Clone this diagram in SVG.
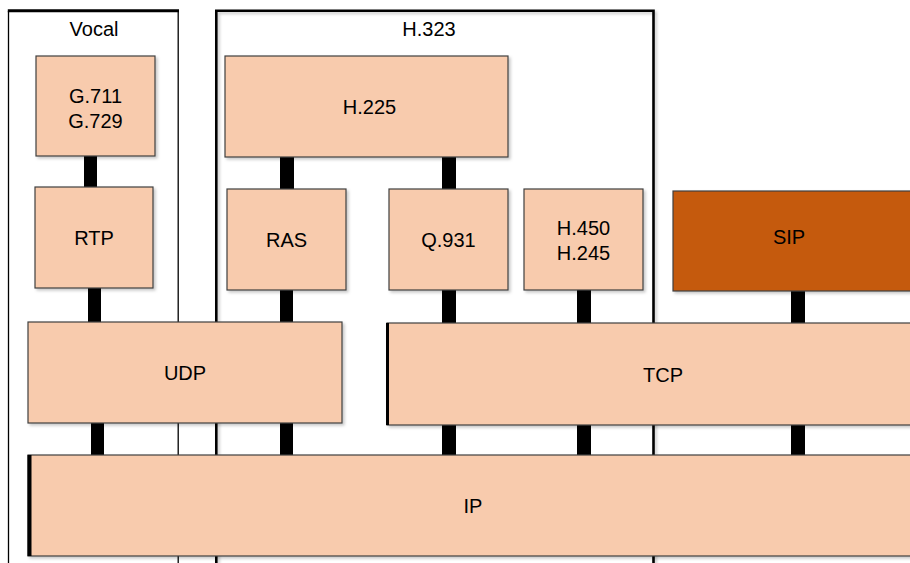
<svg xmlns="http://www.w3.org/2000/svg" width="910" height="563" viewBox="0 0 910 563">
  <defs>
    <filter id="sh" x="-5%" y="-5%" width="115%" height="115%">
      <feDropShadow dx="2" dy="2" stdDeviation="1.5" flood-color="#000" flood-opacity="0.22"/>
    </filter>
    <style>
      .box { fill: #F8CBAD; stroke: #404040; stroke-width: 1.2; filter: url(#sh); }
      .sip { fill: #C55A11; stroke: #404040; stroke-width: 1.2; filter: url(#sh); }
      .lbl { font-family: "Liberation Sans", Arial, sans-serif; font-size: 20px; fill: #000; text-anchor: middle; }
      .con { fill: #000; }
      .frame { fill: none; stroke: #000; }
    </style>
  </defs>
  <rect x="0" y="0" width="910" height="563" fill="#fff"/>

  <g id="vocal">
    <path class="frame" d="M8.5,563 V11 M178.2,563 V11" stroke-width="1.3"/>
    <path class="frame" d="M7.8,10.8 H179" stroke-width="3"/>
    <text class="lbl" x="94" y="35.5">Vocal</text>
  </g>
  <g id="h323">
    <path class="frame" d="M216.3,563 V10.8 H653.5 V563" stroke-width="2.6" filter="url(#sh)"/>
    <text class="lbl" x="429" y="35.5">H.323</text>
  </g>

  <g id="connectors">
    <rect class="con" x="84" y="156" width="13" height="32"/>
    <rect class="con" x="280" y="157" width="14" height="32"/>
    <rect class="con" x="442" y="157" width="14" height="32"/>
    <rect class="con" x="88" y="288" width="13" height="34"/>
    <rect class="con" x="280" y="290" width="13" height="33"/>
    <rect class="con" x="442" y="290" width="14" height="33"/>
    <rect class="con" x="577" y="290" width="14" height="33"/>
    <rect class="con" x="791" y="291" width="14" height="32"/>
    <rect class="con" x="91" y="423" width="13" height="32"/>
    <rect class="con" x="280" y="423" width="13" height="32"/>
    <rect class="con" x="442" y="425" width="14" height="30"/>
    <rect class="con" x="577" y="425" width="14" height="30"/>
    <rect class="con" x="791" y="425" width="14" height="30"/>
  </g>

  <g id="g711">
    <rect class="box" x="36" y="56" width="119" height="100"/>
    <text class="lbl" x="95.5" y="102.5">G.711</text>
    <text class="lbl" x="95.5" y="127.5">G.729</text>
  </g>
  <g id="rtp">
    <rect class="box" x="35" y="187" width="118" height="101"/>
    <text class="lbl" x="94" y="245">RTP</text>
  </g>
  <g id="h225">
    <rect class="box" x="225" y="56" width="283" height="101"/>
    <text class="lbl" x="369.5" y="114">H.225</text>
  </g>
  <g id="ras">
    <rect class="box" x="227" y="189" width="119" height="101"/>
    <text class="lbl" x="286.5" y="247">RAS</text>
  </g>
  <g id="q931">
    <rect class="box" x="389" y="189" width="119" height="101"/>
    <text class="lbl" x="448.5" y="247">Q.931</text>
  </g>
  <g id="h450">
    <rect class="box" x="524" y="189" width="119" height="101"/>
    <text class="lbl" x="583.5" y="235">H.450</text>
    <text class="lbl" x="583.5" y="260">H.245</text>
  </g>
  <g id="sip">
    <rect class="sip" x="673" y="191" width="250" height="100"/>
    <text class="lbl" x="789" y="244">SIP</text>
  </g>
  <g id="udp">
    <rect class="box" x="28" y="322" width="314" height="101"/>
    <text class="lbl" x="185" y="380">UDP</text>
  </g>
  <g id="tcp">
    <rect class="box" x="387" y="323" width="540" height="102"/>
    <line x1="387.5" y1="323" x2="387.5" y2="425" stroke="#000" stroke-width="3"/>
    <text class="lbl" x="663" y="381.5">TCP</text>
  </g>
  <g id="ip">
    <rect class="box" x="28" y="455" width="900" height="101"/>
    <line x1="29.5" y1="455" x2="29.5" y2="556" stroke="#000" stroke-width="4"/>
    <text class="lbl" x="473" y="513">IP</text>
  </g>
</svg>
